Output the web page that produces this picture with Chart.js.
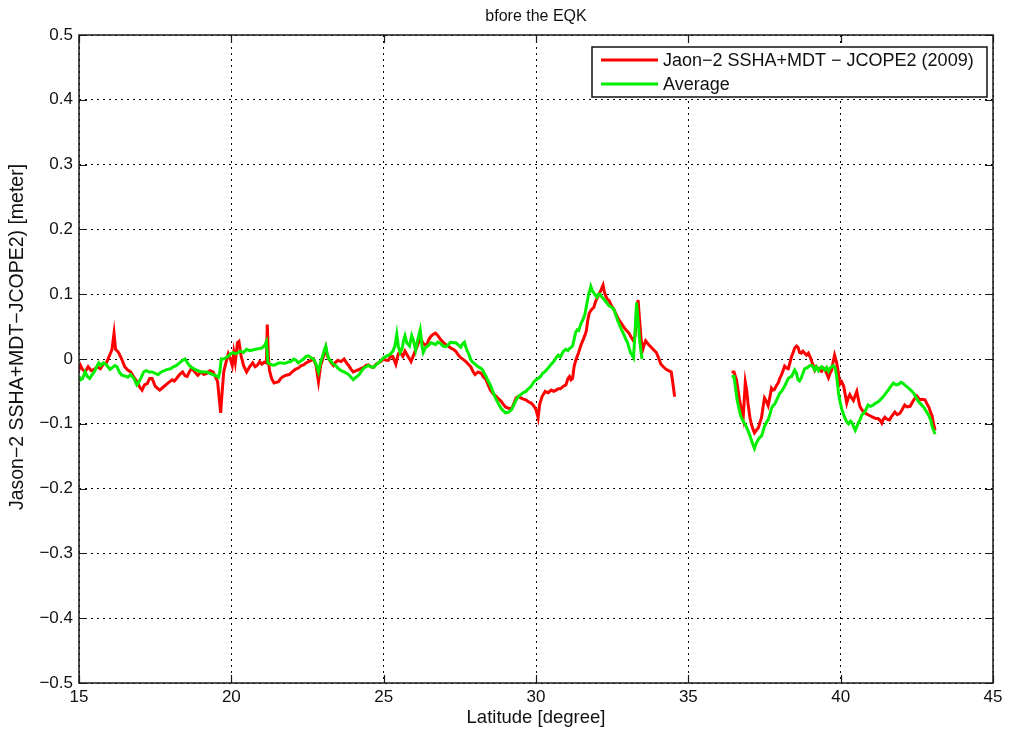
<!DOCTYPE html>
<html>
<head>
<meta charset="utf-8">
<title>bfore the EQK</title>
<script src="https://cdn.jsdelivr.net/npm/chart.js@4.4.1/dist/chart.umd.min.js"></script>
<style>
  html, body { margin: 0; padding: 0; background: #fff; }
  #wrap { width: 1012px; height: 737px; position: relative; }
</style>
</head>
<body>
<div id="wrap"><canvas id="chart"></canvas></div>
<script>
// Jason-2 SSHA+MDT - JCOPE2 (2009), red line
const redLat = [
  15.0, 15.05, 15.1, 15.2, 15.3, 15.4, 15.5, 15.6, 15.7, 15.8,
  15.9, 16.0, 16.08, 16.15, 16.2, 16.3, 16.4, 16.5, 16.6, 16.7,
  16.8, 16.9, 17.0, 17.07, 17.15, 17.24, 17.32, 17.4, 17.5, 17.57,
  17.65, 17.75, 17.85, 17.95, 18.06, 18.13, 18.2, 18.3, 18.4, 18.48,
  18.55, 18.62, 18.7, 18.8, 18.9, 19.0, 19.1, 19.2, 19.3, 19.4,
  19.5, 19.55, 19.6, 19.65, 19.7, 19.75, 19.8, 19.9, 19.97, 20.03,
  20.08, 20.13, 20.2, 20.25, 20.32, 20.4, 20.5, 20.6, 20.7, 20.78,
  20.85, 20.93, 21.0, 21.08, 21.15, 21.18, 21.22, 21.25, 21.32, 21.4,
  21.47, 21.55, 21.62, 21.7, 21.8, 21.9, 22.0, 22.1, 22.2, 22.3,
  22.37, 22.45, 22.53, 22.62, 22.7, 22.78, 22.86, 22.93, 23.0, 23.1,
  23.15, 23.2, 23.28, 23.35, 23.42, 23.5, 23.6, 23.7, 23.78, 23.85,
  23.93, 24.0, 24.1, 24.2, 24.28, 24.35, 24.42, 24.5, 24.58, 24.67,
  24.75, 24.83, 24.92, 25.0, 25.08, 25.16, 25.23, 25.3, 25.4, 25.48,
  25.56, 25.63, 25.7, 25.8, 25.9, 25.98, 26.05, 26.12, 26.2, 26.3,
  26.4, 26.48, 26.55, 26.62, 26.7, 26.78, 26.87, 26.95, 27.04, 27.12,
  27.2, 27.28, 27.37, 27.45, 27.53, 27.62, 27.7, 27.78, 27.86, 27.94,
  28.0, 28.1, 28.2, 28.28, 28.36, 28.43, 28.5, 28.6, 28.7, 28.78,
  28.85, 28.93, 29.0, 29.1, 29.2, 29.28, 29.35, 29.42, 29.5, 29.58,
  29.67, 29.75, 29.84, 29.92, 30.0, 30.07, 30.12, 30.2, 30.3, 30.4,
  30.5, 30.58, 30.66, 30.73, 30.8, 30.9, 30.98, 31.05, 31.1, 31.15,
  31.2, 31.25, 31.3, 31.35, 31.4, 31.48, 31.55, 31.6, 31.65, 31.7,
  31.75, 31.82, 31.9, 31.95, 32.0, 32.07, 32.13, 32.2, 32.25, 32.3,
  32.35, 32.4, 32.48, 32.55, 32.62, 32.7, 32.8, 32.9, 32.97, 33.05,
  33.12, 33.2, 33.25, 33.3, 33.35, 33.4, 33.45, 33.5, 33.55, 33.6,
  33.7, 33.78, 33.86, 33.95, 34.02, 34.1, 34.18, 34.27, 34.35, 34.44,
  34.5, 34.55, 35.5, 36.42, 36.5, 36.58, 36.68, 36.75, 36.8, 36.87,
  36.92, 36.96, 37.02, 37.07, 37.12, 37.17, 37.23, 37.3, 37.35, 37.4,
  37.45, 37.5, 37.56, 37.62, 37.68, 37.73, 37.78, 37.83, 37.9, 37.95,
  38.0, 38.06, 38.11, 38.16, 38.22, 38.28, 38.34, 38.39, 38.44, 38.49,
  38.55, 38.6, 38.65, 38.7, 38.76, 38.82, 38.88, 38.94, 39.0, 39.05,
  39.1, 39.15, 39.2, 39.27, 39.32, 39.38, 39.43, 39.48, 39.54, 39.6,
  39.65, 39.7, 39.75, 39.8, 39.87, 39.92, 39.97, 40.03, 40.1, 40.15,
  40.2, 40.25, 40.3, 40.36, 40.42, 40.48, 40.53, 40.58, 40.63, 40.69,
  40.74, 40.82, 40.9, 40.98, 41.07, 41.15, 41.23, 41.3, 41.35, 41.4,
  41.45, 41.52, 41.6, 41.68, 41.78, 41.86, 41.94, 42.02, 42.1, 42.18,
  42.28, 42.34, 42.4, 42.45, 42.5, 42.55, 42.6, 42.68, 42.77, 42.84,
  42.9, 42.95, 43.0, 43.05, 43.1
];
const redSsh = [
  -0.017, -0.01, -0.015, -0.02, -0.012, -0.018, -0.016, -0.012, -0.015, -0.008,
  -0.006, 0.005, 0.014, 0.04, 0.015, 0.01, 0.0, -0.012, -0.017, -0.02,
  -0.028, -0.035, -0.044, -0.048, -0.04, -0.038, -0.03, -0.03, -0.042, -0.045,
  -0.048, -0.044, -0.04, -0.036, -0.032, -0.034, -0.03, -0.024, -0.02, -0.026,
  -0.027, -0.02, -0.014, -0.02, -0.025, -0.02, -0.024, -0.022, -0.018, -0.02,
  -0.03, -0.035, -0.06, -0.083, -0.05, -0.02, -0.01, 0.008, 0.0, -0.01,
  0.01, -0.005, 0.025, 0.027, 0.005, -0.01, -0.02, -0.012, -0.006, -0.012,
  -0.01, -0.004, -0.008, -0.005, -0.006, 0.053, 0.0, -0.017, -0.03, -0.037,
  -0.036, -0.035, -0.03, -0.027, -0.025, -0.024, -0.02, -0.016, -0.014, -0.01,
  -0.009, -0.006, -0.004, -0.002, 0.0, -0.01, -0.035, -0.01, 0.0, 0.017,
  0.005, 0.0, -0.006, -0.01, -0.005, -0.002, -0.004, 0.0, -0.006, -0.01,
  -0.016, -0.02, -0.018, -0.016, -0.014, -0.013, -0.01, -0.009, -0.012, -0.013,
  -0.008, -0.006, -0.003, 0.0, -0.002, -0.002, 0.004, 0.004, -0.008, 0.008,
  0.009, 0.004, 0.012, 0.004, -0.004, 0.006, 0.014, 0.022, 0.032, 0.024,
  0.02, 0.03, 0.035, 0.038, 0.04, 0.036, 0.03, 0.026, 0.022, 0.02,
  0.017, 0.015, 0.012, 0.006, 0.002, -0.001, -0.004, -0.008, -0.012, -0.02,
  -0.024, -0.02, -0.022, -0.028, -0.032, -0.04, -0.048, -0.054, -0.058, -0.062,
  -0.065, -0.07, -0.074, -0.076, -0.077, -0.068, -0.06, -0.058, -0.06, -0.062,
  -0.063, -0.066, -0.068, -0.072, -0.078, -0.091, -0.07, -0.058, -0.05, -0.052,
  -0.048, -0.05, -0.048, -0.046, -0.046, -0.042, -0.04, -0.03, -0.027, -0.032,
  -0.03, -0.012, -0.003, 0.004, 0.01, 0.022, 0.03, 0.036, 0.043, 0.06,
  0.071, 0.076, 0.08, 0.088, 0.093, 0.1, 0.106, 0.114, 0.102, 0.096,
  0.092, 0.09, 0.082, 0.077, 0.07, 0.062, 0.055, 0.048, 0.044, 0.04,
  0.034, 0.028, 0.035, 0.07, 0.091, 0.06, 0.03, 0.014, 0.022, 0.028,
  0.022, 0.018, 0.014, 0.01, 0.002, -0.008, -0.012, -0.016, -0.018, -0.02,
  -0.04, -0.058, null, -0.02, -0.02, -0.032, -0.063, -0.08, -0.091, -0.036,
  -0.05, -0.069, -0.09, -0.101, -0.108, -0.114, -0.11, -0.106, -0.098, -0.091,
  -0.075, -0.06, -0.065, -0.072, -0.058, -0.045, -0.048, -0.047, -0.04, -0.037,
  -0.03, -0.024, -0.018, -0.011, -0.014, -0.015, -0.005, 0.004, 0.01, 0.017,
  0.02, 0.018, 0.01, 0.009, 0.012, 0.009, 0.006, 0.009, 0.003, -0.004,
  -0.01, -0.017, -0.012, -0.015, -0.018, -0.019, -0.014, -0.016, -0.022, -0.029,
  -0.022, -0.018, -0.005, 0.006, -0.006, -0.02, -0.039, -0.035, -0.042, -0.055,
  -0.068, -0.06, -0.055, -0.06, -0.064, -0.056, -0.05, -0.062, -0.073, -0.078,
  -0.081, -0.084, -0.086, -0.088, -0.09, -0.092, -0.092, -0.095, -0.099, -0.093,
  -0.09, -0.093, -0.094, -0.088, -0.082, -0.086, -0.084, -0.078, -0.071, -0.074,
  -0.073, -0.068, -0.063, -0.06, -0.057, -0.06, -0.063, -0.062, -0.063, -0.07,
  -0.075, -0.082, -0.088, -0.1, -0.11
];

// Average, green line
const avgLat = [
  15.0, 15.05, 15.12, 15.2, 15.28, 15.35, 15.42, 15.5, 15.58, 15.65,
  15.72, 15.8, 15.88, 15.95, 16.02, 16.1, 16.18, 16.25, 16.32, 16.4,
  16.5, 16.6, 16.7, 16.8, 16.9, 16.97, 17.05, 17.12, 17.2, 17.3,
  17.4, 17.5, 17.6, 17.7, 17.8, 17.9, 18.0, 18.1, 18.2, 18.3,
  18.4, 18.48, 18.55, 18.62, 18.7, 18.8, 18.9, 19.0, 19.1, 19.2,
  19.3, 19.4, 19.5, 19.58, 19.62, 19.67, 19.75, 19.82, 19.9, 19.97,
  20.05, 20.13, 20.22, 20.3, 20.4, 20.5, 20.6, 20.7, 20.8, 20.9,
  21.0, 21.08, 21.15, 21.2, 21.28, 21.38, 21.48, 21.55, 21.65, 21.75,
  21.85, 21.95, 22.05, 22.12, 22.2, 22.28, 22.37, 22.45, 22.53, 22.62,
  22.7, 22.78, 22.86, 22.93, 23.0, 23.05, 23.1, 23.15, 23.2, 23.28,
  23.35, 23.42, 23.5, 23.6, 23.7, 23.78, 23.85, 23.93, 24.0, 24.1,
  24.2, 24.28, 24.35, 24.42, 24.5, 24.58, 24.67, 24.75, 24.83, 24.92,
  25.0, 25.08, 25.16, 25.23, 25.3, 25.37, 25.43, 25.48, 25.54, 25.6,
  25.66, 25.7, 25.76, 25.85, 25.92, 25.98, 26.05, 26.12, 26.2, 26.26,
  26.3, 26.38, 26.45, 26.55, 26.62, 26.7, 26.78, 26.87, 26.95, 27.04,
  27.12, 27.2, 27.28, 27.37, 27.45, 27.53, 27.6, 27.65, 27.72, 27.8,
  27.85, 27.9, 28.0, 28.1, 28.18, 28.25, 28.3, 28.36, 28.43, 28.5,
  28.58, 28.65, 28.7, 28.78, 28.85, 28.93, 29.0, 29.1, 29.2, 29.28,
  29.35, 29.42, 29.5, 29.58, 29.67, 29.75, 29.84, 29.92, 30.0, 30.07,
  30.15, 30.22, 30.3, 30.4, 30.5, 30.58, 30.66, 30.73, 30.8, 30.9,
  30.98, 31.05, 31.1, 31.15, 31.2, 31.25, 31.3, 31.35, 31.4, 31.48,
  31.55, 31.6, 31.65, 31.72, 31.8, 31.85, 31.9, 31.95, 32.0, 32.05,
  32.1, 32.15, 32.2, 32.3, 32.4, 32.48, 32.55, 32.62, 32.7, 32.8,
  32.9, 32.95, 33.0, 33.05, 33.1, 33.15, 33.2, 33.25, 33.3, 33.35,
  33.4, 33.45, 33.48, 35.5, 36.42, 36.5, 36.55, 36.6, 36.66, 36.72,
  36.78, 36.84, 36.9, 36.96, 37.02, 37.07, 37.12, 37.17, 37.23, 37.3,
  37.35, 37.4, 37.45, 37.5, 37.56, 37.62, 37.68, 37.73, 37.78, 37.83,
  37.9, 37.95, 38.0, 38.06, 38.11, 38.16, 38.22, 38.28, 38.34, 38.39,
  38.44, 38.49, 38.55, 38.6, 38.65, 38.7, 38.76, 38.82, 38.88, 38.94,
  39.0, 39.05, 39.1, 39.15, 39.2, 39.27, 39.32, 39.38, 39.43, 39.48,
  39.54, 39.6, 39.65, 39.7, 39.76, 39.82, 39.87, 39.93, 39.98, 40.04,
  40.1, 40.15, 40.2, 40.26, 40.32, 40.37, 40.42, 40.48, 40.53, 40.59,
  40.65, 40.7, 40.75, 40.8, 40.85, 40.9, 40.98, 41.07, 41.15, 41.23,
  41.3, 41.4, 41.48, 41.56, 41.65, 41.73, 41.82, 41.9, 41.98, 42.06,
  42.15, 42.23, 42.3, 42.4, 42.48, 42.56, 42.64, 42.72, 42.8, 42.9,
  42.96, 43.0, 43.05, 43.1
];
const avgSsh = [
  -0.027, -0.032, -0.03, -0.02, -0.027, -0.03, -0.025, -0.02, -0.012, -0.006,
  -0.01, -0.006, -0.008, -0.012, -0.016, -0.013, -0.01, -0.012, -0.02, -0.025,
  -0.026, -0.028, -0.024, -0.03, -0.04, -0.035, -0.028, -0.02, -0.018, -0.02,
  -0.02, -0.022, -0.024, -0.02, -0.018, -0.016, -0.015, -0.012, -0.01, -0.006,
  -0.002, 0.0, -0.005, -0.01, -0.013, -0.016, -0.018, -0.02, -0.02, -0.02,
  -0.022, -0.024, -0.026, -0.028, -0.02, 0.0, 0.0, 0.002, 0.004, 0.008,
  0.01, 0.008, 0.01, 0.012, 0.01, 0.015, 0.013, 0.014, 0.015, 0.016,
  0.017, 0.02, 0.027, -0.006, -0.008, -0.01, -0.008, -0.006, -0.006, -0.007,
  -0.005, -0.004, 0.0, -0.002, -0.006, -0.003, 0.0, 0.004, 0.005, 0.002,
  0.0, -0.008, -0.02, -0.005, 0.005, 0.014, 0.02, 0.008, 0.0, -0.004,
  -0.008, -0.01, -0.014, -0.018, -0.02, -0.022, -0.024, -0.028, -0.032, -0.028,
  -0.024, -0.018, -0.014, -0.012, -0.01, -0.012, -0.013, -0.009, -0.006, -0.002,
  0.002, 0.004, 0.006, 0.008, 0.012, 0.02, 0.038, 0.02, 0.01, 0.015,
  0.03, 0.036, 0.025, 0.02, 0.036, 0.028, 0.014, 0.03, 0.045, 0.02,
  0.01, 0.018, 0.02, 0.025, 0.024, 0.022, 0.026, 0.024, 0.02, 0.019,
  0.022, 0.026, 0.025, 0.025, 0.022, 0.018, 0.024, 0.026, 0.015, 0.007,
  0.0, -0.004, -0.008, -0.012, -0.014, -0.017, -0.022, -0.027, -0.034, -0.04,
  -0.05, -0.058, -0.063, -0.07, -0.076, -0.08, -0.083, -0.082, -0.078, -0.07,
  -0.063, -0.058, -0.055, -0.052, -0.05, -0.046, -0.042, -0.036, -0.032, -0.03,
  -0.027, -0.022, -0.019, -0.014, -0.008, -0.004, 0.002, 0.006, 0.003, 0.012,
  0.015, 0.013, 0.016, 0.018, 0.02, 0.03, 0.041, 0.045, 0.044, 0.055,
  0.062, 0.068, 0.08, 0.098, 0.112, 0.105, 0.102, 0.098, 0.095, 0.1,
  0.1, 0.096, 0.094, 0.088, 0.082, 0.08, 0.077, 0.068, 0.057, 0.046,
  0.036, 0.03, 0.026, 0.018, 0.01, 0.006, 0.002, 0.04, 0.087, 0.06,
  0.03, 0.01, 0.0, null, -0.027, -0.027, -0.045, -0.063, -0.076, -0.088,
  -0.094, -0.099, -0.104, -0.111, -0.118, -0.125, -0.132, -0.138, -0.13, -0.124,
  -0.121, -0.119, -0.112, -0.104, -0.098, -0.094, -0.085, -0.076, -0.072, -0.07,
  -0.063, -0.058, -0.053, -0.05, -0.046, -0.042, -0.036, -0.03, -0.028, -0.027,
  -0.022, -0.017, -0.022, -0.032, -0.034, -0.03, -0.022, -0.015, -0.014, -0.012,
  -0.01, -0.01, -0.013, -0.017, -0.012, -0.018, -0.014, -0.012, -0.015, -0.017,
  -0.013, -0.019, -0.014, -0.012, -0.01, -0.014, -0.027, -0.053, -0.066, -0.078,
  -0.086, -0.092, -0.097, -0.1, -0.096, -0.098, -0.104, -0.11, -0.104, -0.098,
  -0.092, -0.086, -0.084, -0.081, -0.076, -0.071, -0.073, -0.071, -0.068, -0.066,
  -0.063, -0.058, -0.053, -0.048, -0.042, -0.037, -0.04, -0.039, -0.036, -0.038,
  -0.042, -0.045, -0.048, -0.053, -0.06, -0.066, -0.07, -0.074, -0.08, -0.088,
  -0.095, -0.104, -0.11, -0.116
];

const xTicks = [15, 20, 25, 30, 35, 40, 45];
const yTicks = [-0.5, -0.4, -0.3, -0.2, -0.1, 0, 0.1, 0.2, 0.3, 0.4, 0.5];
const legendLabels = ['Jaon\u22122 SSHA+MDT \u2212 JCOPE2 (2009)', 'Average'];

const FONT = '"Liberation Sans", Arial, Helvetica, sans-serif';

function toPoints(lat, val) {
  return lat.map((x, i) => ({ x: x, y: val[i] }));
}

function fmtY(v) {
  if (Math.abs(v) < 1e-9) return '0';
  return (v < 0 ? '\u2212' : '') + Math.abs(v).toFixed(1);
}

// matlab style frame: box, inward ticks, titles, legend
const matlabFrame = {
  id: 'matlabFrame',
  afterDraw(chart) {
    const { ctx, chartArea: a, scales } = chart;
    const xs = scales.x, ys = scales.y;
    ctx.save();
    ctx.strokeStyle = '#1a1a1a';
    ctx.lineWidth = 1.5;
    ctx.strokeRect(a.left, a.top, a.right - a.left, a.bottom - a.top);

    const tl = 8;
    ctx.beginPath();
    xTicks.forEach(t => {
      const px = Math.round(xs.getPixelForValue(t)) + 0.5;
      ctx.moveTo(px, a.bottom); ctx.lineTo(px, a.bottom - tl);
      ctx.moveTo(px, a.top); ctx.lineTo(px, a.top + tl);
    });
    yTicks.forEach(t => {
      const py = Math.round(ys.getPixelForValue(t)) + 0.5;
      ctx.moveTo(a.left, py); ctx.lineTo(a.left + tl, py);
      ctx.moveTo(a.right, py); ctx.lineTo(a.right - tl, py);
    });
    ctx.lineWidth = 1.2;
    ctx.stroke();

    ctx.fillStyle = '#111';
    ctx.textAlign = 'center';
    ctx.textBaseline = 'middle';
    ctx.font = '16px ' + FONT;
    ctx.fillText('bfore the EQK', (a.left + a.right) / 2, 17);
    ctx.font = '18.5px ' + FONT;
    ctx.fillText('Latitude [degree]', (a.left + a.right) / 2, 718);
    ctx.save();
    ctx.translate(18, 337);
    ctx.rotate(-Math.PI / 2);
    ctx.font = '19.5px ' + FONT;
    ctx.fillText('Jason\u22122 SSHA+MDT\u2212JCOPE2) [meter]', 0, 0);
    ctx.restore();

    // legend box
    const bx = 592, by = 47, bw = 395, bh = 50;
    ctx.fillStyle = '#fff';
    ctx.fillRect(bx, by, bw, bh);
    ctx.strokeStyle = '#111';
    ctx.lineWidth = 1.5;
    ctx.strokeRect(bx, by, bw, bh);
    const colors = chart.data.datasets.map(d => d.borderColor);
    const rows = [60, 84];
    ctx.textAlign = 'left';
    ctx.font = '18px ' + FONT;
    legendLabels.forEach((lab, i) => {
      ctx.strokeStyle = colors[i];
      ctx.lineWidth = 3;
      ctx.beginPath();
      ctx.moveTo(601, rows[i]);
      ctx.lineTo(658, rows[i]);
      ctx.stroke();
      ctx.fillStyle = '#111';
      ctx.fillText(lab, 663, rows[i] + 1);
    });
    ctx.restore();
  }
};

new Chart(document.getElementById('chart'), {
  type: 'line',
  data: {
    datasets: [
      {
        label: legendLabels[0],
        data: toPoints(redLat, redSsh),
        borderColor: '#ff0000',
        borderWidth: 3,
        pointRadius: 0,
        spanGaps: false,
        order: 1
      },
      {
        label: legendLabels[1],
        data: toPoints(avgLat, avgSsh),
        borderColor: '#00ee00',
        borderWidth: 3,
        pointRadius: 0,
        spanGaps: false,
        order: 0
      }
    ]
  },
  options: {
    responsive: true,
    maintainAspectRatio: false,
    animation: false,
    layout: { padding: { top: 35, right: 19, left: 0, bottom: 0 } },
    plugins: {
      legend: { display: false },
      title: { display: false },
      tooltip: { enabled: false }
    },
    scales: {
      x: {
        type: 'linear',
        min: 15,
        max: 45,
        afterFit: s => { s.height = 54; },
        afterBuildTicks: s => { s.ticks = xTicks.map(v => ({ value: v })); },
        ticks: {
          color: '#111',
          padding: 4,
          maxRotation: 0,
          font: { family: FONT, size: 17 }
        },
        grid: { color: '#000', lineWidth: 1, drawTicks: false },
        border: { display: false, dash: [2, 4] }
      },
      y: {
        type: 'linear',
        min: -0.5,
        max: 0.5,
        afterFit: s => { s.width = 79; },
        afterBuildTicks: s => { s.ticks = yTicks.map(v => ({ value: v })); },
        ticks: {
          color: '#111',
          padding: 6,
          callback: v => fmtY(v),
          font: { family: FONT, size: 17 }
        },
        grid: { color: '#000', lineWidth: 1, drawTicks: false },
        border: { display: false, dash: [2, 4] }
      }
    }
  },
  plugins: [matlabFrame]
});
</script>
</body>
</html>
